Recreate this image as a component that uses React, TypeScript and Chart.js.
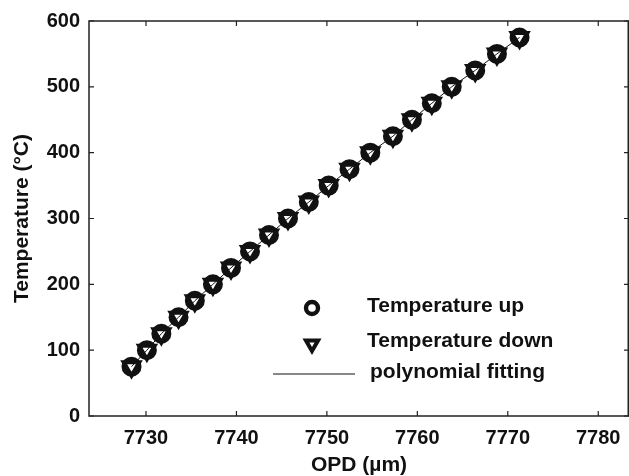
import React, { useEffect, useRef } from "react";
import { Chart, registerables } from "chart.js";

Chart.register(...registerables);

// Temperature setpoints (°C)
const temperatures = [75, 100, 125, 150, 175, 200, 225, 250, 275, 300, 325, 350, 375, 400, 425, 450, 475, 500, 525, 550, 575];
// OPD readings (µm) for the heating run
const opdUp = [7728.4, 7730.1, 7731.7, 7733.6, 7735.4, 7737.4, 7739.4, 7741.5, 7743.6, 7745.7, 7748.0, 7750.2, 7752.5, 7754.8, 7757.3, 7759.4, 7761.6, 7763.8, 7766.4, 7768.8, 7771.3];
// OPD readings (µm) for the cooling run
const opdDown = [7728.4, 7730.1, 7731.7, 7733.6, 7735.4, 7737.4, 7739.4, 7741.5, 7743.6, 7745.7, 7748.0, 7750.2, 7752.5, 7754.8, 7757.3, 7759.4, 7761.6, 7763.8, 7766.4, 7768.8, 7771.3];
// Polynomial fitting curve (OPD, temperature)
const fitOpd = [7728.4, 7730.1, 7731.7, 7733.6, 7735.4, 7737.4, 7739.4, 7741.5, 7743.6, 7745.7, 7748.0, 7750.2, 7752.5, 7754.8, 7757.3, 7759.4, 7761.6, 7763.8, 7766.4, 7768.8, 7771.3];
const fitTemp = [75, 100, 125, 150, 175, 200, 225, 250, 275, 300, 325, 350, 375, 400, 425, 450, 475, 500, 525, 550, 575];

const xTicks = [7730, 7740, 7750, 7760, 7770, 7780];
const yTicks = [0, 100, 200, 300, 400, 500, 600];
const xRange = [7723.7, 7783.4];
const yRange = [0, 600];

const seriesLabels = ["Temperature up", "Temperature down", "polynomial fitting"];
const xTitle = "OPD (µm)";
const yTitle = "Temperature (°C)";

const FONT = "'Liberation Sans', Arial, Helvetica, sans-serif";
const INK = "#111";

function drawCircle(ctx: CanvasRenderingContext2D, x: number, y: number, r: number, w: number) {
  ctx.save();
  ctx.beginPath();
  ctx.arc(x, y, r, 0, Math.PI * 2);
  ctx.lineWidth = w;
  ctx.strokeStyle = INK;
  ctx.stroke();
  ctx.restore();
}

function drawTriDown(ctx: CanvasRenderingContext2D, x: number, y: number, r: number, w: number) {
  ctx.save();
  ctx.beginPath();
  for (let i = 0; i < 3; i++) {
    const a = Math.PI + (i * 2 * Math.PI) / 3;
    const px = x + Math.sin(a) * r;
    const py = y - Math.cos(a) * r;
    if (i === 0) ctx.moveTo(px, py);
    else ctx.lineTo(px, py);
  }
  ctx.closePath();
  ctx.lineWidth = w;
  ctx.lineJoin = "miter";
  ctx.strokeStyle = INK;
  ctx.stroke();
  ctx.restore();
}

const framePlugin = {
  id: "frame",
  afterDatasetsDraw(chart: any) {
    const { ctx, chartArea } = chart;
    const { left, right, top, bottom } = chartArea;
    const xs = chart.scales.x;
    const ys = chart.scales.y;
    const tl = 5;
    ctx.save();
    ctx.strokeStyle = "#222";
    ctx.lineWidth = 1.5;
    ctx.strokeRect(left, top, right - left - 0.75, bottom - top);
    ctx.lineWidth = 1.2;
    ctx.beginPath();
    xTicks.forEach((v) => {
      const px = xs.getPixelForValue(v);
      ctx.moveTo(px, bottom);
      ctx.lineTo(px, bottom - tl);
      ctx.moveTo(px, top);
      ctx.lineTo(px, top + tl);
    });
    yTicks.forEach((v) => {
      const py = ys.getPixelForValue(v);
      ctx.moveTo(left, py);
      ctx.lineTo(left + tl, py);
      ctx.moveTo(right, py);
      ctx.lineTo(right - tl, py);
    });
    ctx.stroke();

    // legend
    const lx = left + 223;
    const tx = left + 278;
    const rows = [top + 287, top + 322, top + 353];
    const labels = chart.data.datasets.map((d: any) => d.label);
    drawCircle(ctx, lx, rows[0], 6, 4.4);
    drawTriDown(ctx, lx, rows[1] + 1, 7, 4);
    ctx.beginPath();
    ctx.lineWidth = 1;
    ctx.strokeStyle = INK;
    ctx.moveTo(left + 184, rows[2]);
    ctx.lineTo(left + 266, rows[2]);
    ctx.stroke();
    ctx.fillStyle = INK;
    ctx.font = `bold 21px ${FONT}`;
    ctx.textBaseline = "middle";
    ctx.textAlign = "left";
    ctx.fillText(labels[0], tx, rows[0] - 2);
    ctx.fillText(labels[1], tx, rows[1] - 2);
    ctx.fillText(labels[2], tx + 3, rows[2] - 2);
    ctx.restore();
  },
};

export default function App() {
  const ref = useRef<HTMLCanvasElement | null>(null);

  useEffect(() => {
    if (!ref.current) return;
    const up = opdUp.map((x, i) => ({ x, y: temperatures[i] }));
    const down = opdDown.map((x, i) => ({ x, y: temperatures[i] }));
    const fit = fitOpd.map((x, i) => ({ x, y: fitTemp[i] }));
    const tickFont = { family: FONT, size: 20, weight: "bold" as const };
    const titleFont = { family: FONT, size: 21, weight: "bold" as const };
    const chart = new Chart(ref.current, {
      type: "scatter",
      data: {
        datasets: [
          {
            label: seriesLabels[0],
            data: up,
            pointStyle: "circle",
            pointRadius: 7.5,
            pointBorderWidth: 5,
            pointBorderColor: INK,
            pointBackgroundColor: "rgba(0,0,0,0)",
            showLine: false,
            order: 1,
          },
          {
            label: seriesLabels[1],
            data: down,
            pointStyle: "triangle",
            pointRotation: 180,
            pointRadius: 9,
            pointBorderWidth: 4,
            pointBorderColor: INK,
            pointBackgroundColor: "rgba(0,0,0,0)",
            showLine: false,
            order: 0,
          },
          {
            label: seriesLabels[2],
            data: fit,
            showLine: true,
            pointRadius: 0,
            borderColor: INK,
            borderWidth: 1,
            order: 2,
          },
        ],
      },
      options: {
        animation: false,
        responsive: false,
        maintainAspectRatio: false,
        layout: { autoPadding: false, padding: { top: 18, right: 0, bottom: 0, left: 0 } },
        plugins: {
          legend: { display: false },
          tooltip: { enabled: false },
        },
        scales: {
          x: {
            type: "linear",
            position: "bottom",
            min: xRange[0],
            max: xRange[1],
            grid: { display: false, drawTicks: false },
            border: { display: false },
            afterBuildTicks: (s: any) => {
              s.ticks = xTicks.map((v) => ({ value: v }));
            },
            afterFit: (s: any) => {
              s.height = 60;
              s.paddingLeft = 0;
              s.paddingRight = 0;
            },
            ticks: {
              font: tickFont,
              color: INK,
              padding: 10,
              maxRotation: 0,
              autoSkip: false,
              callback: (v: any) => String(v),
            },
            title: {
              display: true,
              text: xTitle,
              font: titleFont,
              color: INK,
              padding: -2,
            },
          },
          y: {
            type: "linear",
            min: yRange[0],
            max: yRange[1],
            grid: { display: false, drawTicks: false },
            border: { display: false },
            afterBuildTicks: (s: any) => {
              s.ticks = yTicks.map((v) => ({ value: v }));
            },
            afterFit: (s: any) => {
              s.width = 89;
            },
            ticks: {
              font: tickFont,
              color: INK,
              padding: 9,
              autoSkip: false,
              callback: (v: any) => String(v),
            },
            title: {
              display: true,
              text: yTitle,
              font: titleFont,
              color: INK,
              padding: 10,
            },
          },
        },
      },
      plugins: [framePlugin],
    });
    return () => chart.destroy();
  }, []);

  return (
    <div style={{ position: "fixed", left: 0, top: 0, width: 629, height: 476, background: "#fff" }}>
      <canvas ref={ref} width={629} height={476} style={{ display: "block" }} />
    </div>
  );
}
